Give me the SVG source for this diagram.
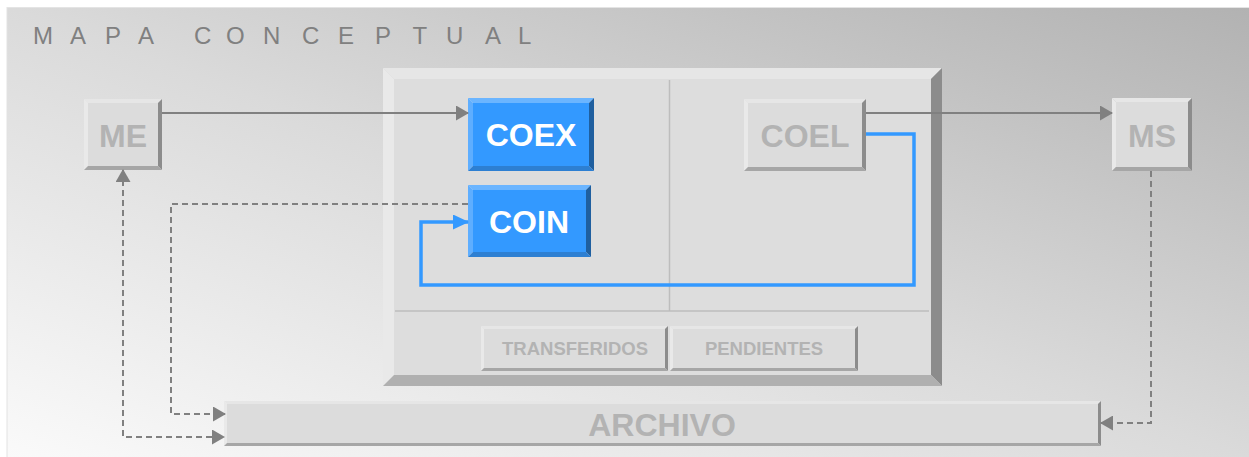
<svg xmlns="http://www.w3.org/2000/svg" width="1249" height="457" viewBox="0 0 1249 457">
<defs>
  <linearGradient id="bg" gradientUnits="userSpaceOnUse" x1="7" y1="457" x2="296" y2="-339">
    <stop offset="0" stop-color="#fafafa"/>
    <stop offset="0.5" stop-color="#dadada"/>
    <stop offset="1" stop-color="#b2b2b2"/>
  </linearGradient>
  <marker id="ag" markerUnits="userSpaceOnUse" markerWidth="13" markerHeight="15" refX="12" refY="7.5" orient="auto-start-reverse">
    <path d="M0,0 L13,7.5 L0,15 z" fill="#808080"/>
  </marker>
  <marker id="ab" markerUnits="userSpaceOnUse" markerWidth="16" markerHeight="15" refX="15" refY="7.5" orient="auto">
    <path d="M0,0 L16,7.5 L0,15 z" fill="#3399ff"/>
  </marker>
</defs>
<style>
  .t{fill:#e6e6e6}.l{fill:#e9e9e9}.r{fill:#8c8c8c}.b{fill:#a6a6a6}.f{fill:#dcdcdc}
  .bt{fill:#6bb5ff}.bl{fill:#5eaeff}.br{fill:#1f5f9f}.bb{fill:#2d7fd2}.bf{fill:#3399ff}
  .lbl{font-family:"Liberation Sans",Arial,sans-serif;font-weight:bold;text-anchor:middle;fill:#b3b3b3}
  .wl{fill:#ffffff}
  .cg{fill:none;stroke:#808080;stroke-width:2}
  .dash{stroke-dasharray:6 4}
  .cb{fill:none;stroke:#3399ff;stroke-width:3.5}
  .div{stroke:#bdbdbd;stroke-width:1.5}
</style>
<rect x="7" y="7" width="1242" height="450" fill="url(#bg)"/>
<line x1="7" y1="7" x2="7" y2="457" stroke="#e2e2e2" stroke-width="1"/>
<line x1="7" y1="7.5" x2="1249" y2="7.5" stroke="#e4e4e4" stroke-width="1"/>
<text x="33 70 105 138 170 194 226 263 302 338 375 412.5 446 485 518" y="44" font-family="Liberation Sans,Arial,sans-serif" font-size="24" fill="#808080">MAPA CONCEPTUAL</text>

<g id="main">
  <polygon class="t" points="383,68 942,68 931,79 394,79"/>
  <polygon class="l" points="383,68 394,79 394,375 383,386"/>
  <polygon class="r" points="942,68 942,386 931,375 931,79"/>
  <polygon fill="#b0b0b0" points="383,386 942,386 931,375 394,375"/>
  <rect x="394" y="79" width="537" height="296" fill="#dddddd"/>
  <line class="div" x1="669.5" y1="80" x2="669.5" y2="311"/>
  <line class="div" x1="395" y1="311" x2="929" y2="311"/>
</g>

<g id="me">
  <polygon class="t" points="84,99 162,99 158,103 88,103"/>
  <polygon class="l" points="84,99 88,103 88,166 84,170"/>
  <polygon class="r" points="162,99 162,170 158,166 158,103"/>
  <polygon class="b" points="84,170 162,170 158,166 88,166"/>
  <rect class="f" x="88" y="103" width="70" height="63"/>
  <text class="lbl" x="123" y="146.5" font-size="32">ME</text>
</g>

<g id="coex">
  <polygon class="bt" points="468,98 594,98 589,103 473,103"/>
  <polygon class="bl" points="468,98 473,103 473,166 468,171"/>
  <polygon class="br" points="594,98 594,171 589,166 589,103"/>
  <polygon class="bb" points="468,171 594,171 589,166 473,166"/>
  <rect class="bf" x="473" y="103" width="116" height="63"/>
  <text class="lbl wl" x="531" y="146" font-size="32">COEX</text>
</g>

<g id="coin">
  <polygon class="bt" points="468,185 591,185 586,190 473,190"/>
  <polygon class="bl" points="468,185 473,190 473,252 468,257"/>
  <polygon class="br" points="591,185 591,257 586,252 586,190"/>
  <polygon class="bb" points="468,257 591,257 586,252 473,252"/>
  <rect class="bf" x="473" y="190" width="113" height="62"/>
  <text class="lbl wl" x="529" y="233.3" font-size="32">COIN</text>
</g>

<g id="coel">
  <polygon class="t" points="744,99 866,99 862,103 748,103"/>
  <polygon class="l" points="744,99 748,103 748,167 744,171"/>
  <polygon class="r" points="866,99 866,171 862,167 862,103"/>
  <polygon class="b" points="744,171 866,171 862,167 748,167"/>
  <rect class="f" x="748" y="103" width="114" height="64"/>
  <text class="lbl" x="805" y="146.5" font-size="32">COEL</text>
</g>

<g id="ms">
  <polygon class="t" points="1112,98 1192,98 1188,102 1116,102"/>
  <polygon class="l" points="1112,98 1116,102 1116,167 1112,171"/>
  <polygon class="r" points="1192,98 1192,171 1188,167 1188,102"/>
  <polygon class="b" points="1112,171 1192,171 1188,167 1116,167"/>
  <rect class="f" x="1116" y="102" width="72" height="65"/>
  <text class="lbl" x="1152" y="146.5" font-size="32">MS</text>
</g>

<g id="transferidos">
  <polygon class="t" points="481,326 668,326 665,329 484,329"/>
  <polygon class="l" points="481,326 484,329 484,368 481,371"/>
  <polygon class="r" points="668,326 668,371 665,368 665,329"/>
  <polygon class="b" points="481,371 668,371 665,368 484,368"/>
  <rect class="f" x="484" y="329" width="181" height="39"/>
  <text class="lbl" x="575" y="355" font-size="18.5">TRANSFERIDOS</text>
</g>

<g id="pendientes">
  <polygon class="t" points="670,326 858,326 855,329 673,329"/>
  <polygon class="l" points="670,326 673,329 673,368 670,371"/>
  <polygon class="r" points="858,326 858,371 855,368 855,329"/>
  <polygon class="b" points="670,371 858,371 855,368 673,368"/>
  <rect class="f" x="673" y="329" width="182" height="39"/>
  <text class="lbl" x="764" y="355" font-size="18.5">PENDIENTES</text>
</g>

<g id="archivo">
  <polygon class="t" points="224,401 1101,401 1098,404 227,404"/>
  <polygon class="l" points="224,401 227,404 227,443 224,446"/>
  <polygon class="r" points="1101,401 1101,446 1098,443 1098,404"/>
  <polygon class="b" points="224,446 1101,446 1098,443 227,443"/>
  <rect class="f" x="227" y="404" width="871" height="39"/>
  <text class="lbl" x="662" y="436" font-size="32">ARCHIVO</text>
</g>

<g id="connectors">
  <path class="cg" d="M162,113 H468" marker-end="url(#ag)"/>
  <path class="cg" d="M866,113 H1112" marker-end="url(#ag)"/>
  <path class="cg dash" d="M468,204 H171 V414 H225" marker-end="url(#ag)"/>
  <path class="cg dash" d="M123,170 V437 H224" marker-start="url(#ag)" marker-end="url(#ag)"/>
  <path class="cg dash" d="M1151,171 V423 H1101" marker-end="url(#ag)"/>
  <path class="cb" d="M866,134 H914 V285 H421 V222 H468" marker-end="url(#ab)"/>
</g>
</svg>
